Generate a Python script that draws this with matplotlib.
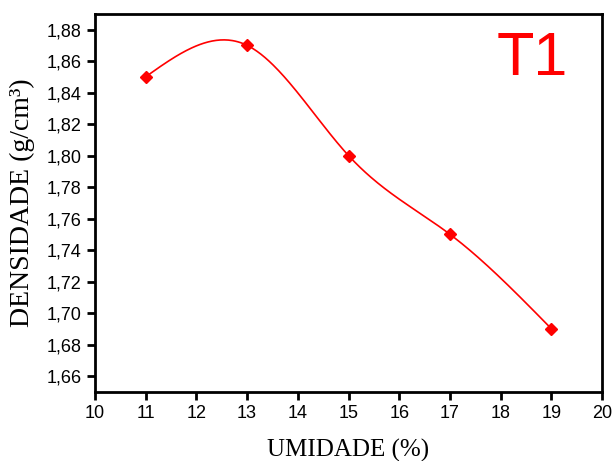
import numpy as np
import matplotlib.pyplot as plt
from matplotlib.ticker import FuncFormatter, MultipleLocator

umidade = [11, 13, 15, 17, 19]
densidade = [1.85, 1.87, 1.80, 1.75, 1.69]


def natural_spline(x, y, n=300):
    x = np.asarray(x, float)
    y = np.asarray(y, float)
    k = len(x)
    h = np.diff(x)
    A = np.zeros((k, k))
    b = np.zeros(k)
    A[0, 0] = A[-1, -1] = 1
    for i in range(1, k - 1):
        A[i, i - 1] = h[i - 1]
        A[i, i] = 2 * (h[i - 1] + h[i])
        A[i, i + 1] = h[i]
        b[i] = 6 * ((y[i + 1] - y[i]) / h[i] - (y[i] - y[i - 1]) / h[i - 1])
    m = np.linalg.solve(A, b)
    xs = np.linspace(x[0], x[-1], n)
    idx = np.clip(np.searchsorted(x, xs) - 1, 0, k - 2)
    x0, x1 = x[idx], x[idx + 1]
    hh = x1 - x0
    t0, t1 = x1 - xs, xs - x0
    ys = (m[idx] * t0**3 + m[idx + 1] * t1**3) / (6 * hh) \
        + (y[idx] / hh - m[idx] * hh / 6) * t0 \
        + (y[idx + 1] / hh - m[idx + 1] * hh / 6) * t1
    return xs, ys


fig = plt.figure(figsize=(6.12, 4.61), dpi=100)
ax = fig.add_axes([0.155, 0.15, 0.829, 0.82])

xs, ys = natural_spline(umidade, densidade)
ax.plot(xs, ys, color="red", linewidth=1.2)
ax.plot(umidade, densidade, "D", color="red", markersize=6)

ax.set_xlim(10, 20)
ax.set_ylim(1.65, 1.89)
ax.xaxis.set_major_locator(MultipleLocator(1))
ax.set_yticks(np.arange(1.66, 1.8801, 0.02))
ax.yaxis.set_major_formatter(FuncFormatter(lambda v, p: f"{v:.2f}".replace(".", ",")))

for s in ax.spines.values():
    s.set_linewidth(2)
ax.tick_params(direction="out", width=2, length=6, labelsize=13)
for lab in ax.get_xticklabels() + ax.get_yticklabels():
    lab.set_family("Liberation Sans")

ax.set_xlabel("UMIDADE (%)", family="Liberation Serif", fontsize=18, labelpad=12)
ax.set_ylabel("DENSIDADE (g/cm³)", family="Liberation Serif", fontsize=20, labelpad=8)

ax.text(0.862, 0.878, "T1", transform=ax.transAxes, color="red", fontsize=44,
        family="Liberation Sans", ha="center", va="center")

fig.savefig("out.png", dpi=100)
